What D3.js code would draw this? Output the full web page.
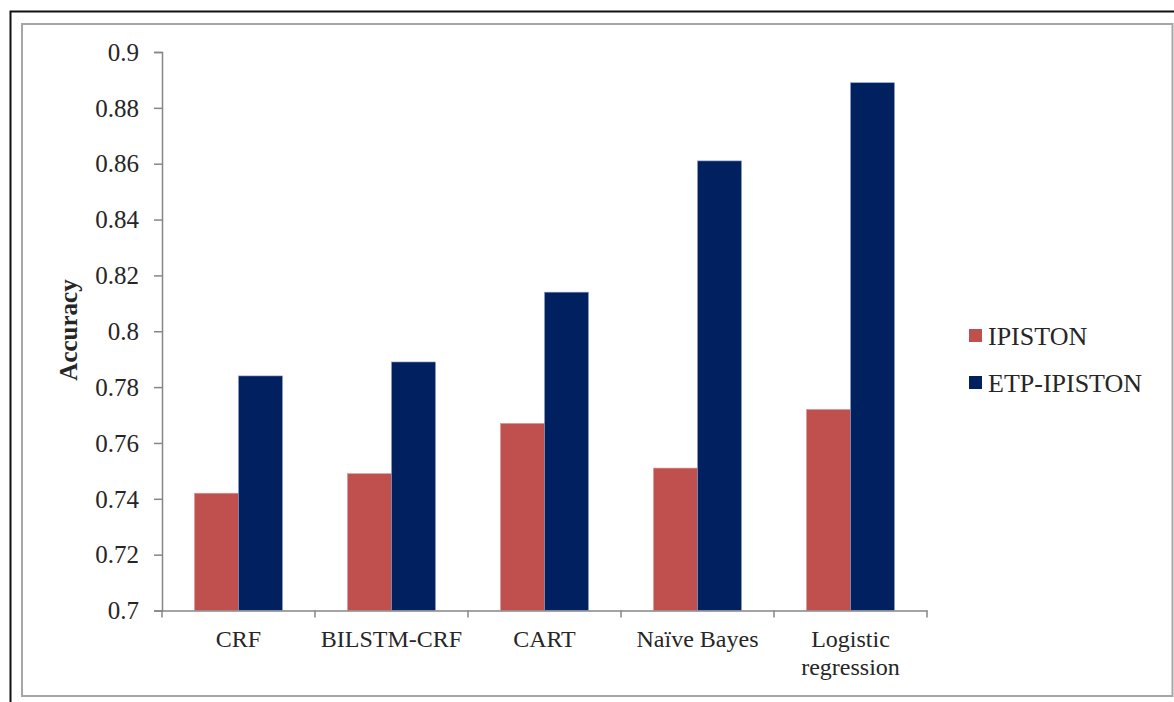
<!DOCTYPE html>
<html>
<head>
<meta charset="utf-8">
<script src="https://cdn.jsdelivr.net/npm/d3@7"></script>
<style>
  html, body { margin: 0; padding: 0; background: #fff; }
  svg { display: block; font-family: "Liberation Serif", "Times New Roman", serif; }
  text { font-family: "Liberation Serif", "Times New Roman", serif; fill: #262626; }
</style>
</head>
<body>
<svg id="chart" width="1174" height="702"></svg>
<script>
// Data
const categories = ["CRF", "BILSTM-CRF", "CART", "Naïve Bayes", "Logistic regression"];
const seriesNames = ["IPISTON", "ETP-IPISTON"];
const ipiston = [0.742, 0.749, 0.767, 0.751, 0.772];
const etpIpiston = [0.784, 0.789, 0.814, 0.861, 0.889];
const yTicks = [0.7, 0.72, 0.74, 0.76, 0.78, 0.8, 0.82, 0.84, 0.86, 0.88, 0.9];
const colors = ["#C0504D", "#002060"];

const rows = categories.map((c, i) => ({ category: c, values: [ipiston[i], etpIpiston[i]] }));

const svg = d3.select("#chart");

// Outer frame and inner chart border
svg.append("path")
  .attr("d", "M10.5,702 L10.5,11.5 L1174,11.5")
  .attr("fill", "none").attr("stroke", "#111").attr("stroke-width", 2);
svg.append("rect")
  .attr("x", 22).attr("y", 24).attr("width", 1150.5).attr("height", 672)
  .attr("fill", "#fff").attr("stroke", "#a6a6a6").attr("stroke-width", 2);

const plot = { left: 162, right: 927, top: 52, bottom: 610.5 };
const groupWidth = 88;

const x0 = d3.scaleBand().domain(categories).range([plot.left, plot.right]);
const x1 = d3.scaleBand().domain(seriesNames).range([0, groupWidth]);
const y = d3.scaleLinear().domain([0.7, 0.9]).range([plot.bottom, plot.top]);

// Bars
const groups = svg.append("g").selectAll("g")
  .data(rows).join("g")
  .attr("transform", d => `translate(${x0(d.category) + (x0.bandwidth() - groupWidth) / 2},0)`);

groups.selectAll("rect")
  .data(d => d.values.map((v, i) => ({ key: seriesNames[i], value: v, i })))
  .join("rect")
  .attr("x", d => x1(d.key))
  .attr("y", d => y(d.value))
  .attr("width", x1.bandwidth())
  .attr("height", d => y(0.7) - y(d.value))
  .attr("fill", d => colors[d.i])
  .attr("stroke", d => d.i === 0 ? "#d99694" : "#8ea0c4")
  .attr("stroke-width", 0.6);

// Y axis
const yAxis = d3.axisLeft(y).tickValues(yTicks).tickSize(8).tickPadding(15)
  .tickFormat(d => String(+d.toFixed(2)));
const gy = svg.append("g").attr("transform", `translate(${plot.left},0)`).call(yAxis);
gy.attr("font-family", null).attr("font-size", null);
gy.select(".domain").attr("stroke", "#868686").attr("stroke-width", 1.5);
gy.selectAll(".tick line").attr("stroke", "#868686").attr("stroke-width", 1.5);
gy.selectAll(".tick text").attr("font-size", 25).attr("fill", "#262626").attr("dy", "0.33em");

// X axis
const gx = svg.append("g").attr("transform", `translate(0,${plot.bottom})`)
  .call(d3.axisBottom(x0).tickSize(0).tickFormat(""));
gx.select(".domain").attr("stroke", "#868686").attr("stroke-width", 1.5);
// category boundary ticks
const bounds = categories.map(c => x0(c)).concat([plot.right]);
gx.selectAll("line.bound").data(bounds).join("line")
  .attr("class", "bound")
  .attr("x1", d => d).attr("x2", d => d)
  .attr("y1", 0).attr("y2", 7)
  .attr("stroke", "#868686").attr("stroke-width", 1.5);

// Category labels (wrapped where needed)
const labelLines = { "Logistic regression": ["Logistic", "regression"] };
categories.forEach(c => {
  const lines = labelLines[c] || [c];
  const cx = x0(c) + x0.bandwidth() / 2;
  const t = svg.append("text")
    .attr("text-anchor", "middle")
    .attr("font-size", 24);
  lines.forEach((ln, i) => {
    t.append("tspan")
      .attr("x", cx)
      .attr("y", 646.5 + i * 28.5)
      .text(ln);
  });
});

// Y axis title
svg.append("text")
  .attr("transform", "translate(77,330) rotate(-90)")
  .attr("text-anchor", "middle")
  .attr("font-size", 25)
  .attr("font-weight", "bold")
  .text("Accuracy");

// Legend
const legend = svg.append("g").selectAll("g")
  .data(seriesNames).join("g")
  .attr("transform", (d, i) => `translate(969,${329 + i * 47})`);
legend.append("rect")
  .attr("width", 13).attr("height", 13)
  .attr("fill", (d, i) => colors[i]);
legend.append("text")
  .attr("x", 19).attr("y", 16)
  .attr("font-size", 26)
  .text(d => d);
</script>
</body>
</html>
